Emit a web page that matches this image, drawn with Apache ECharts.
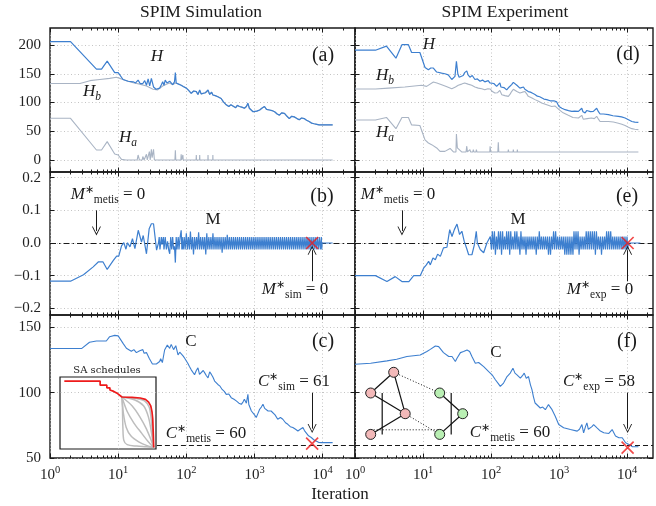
<!DOCTYPE html>
<html>
<head>
<meta charset="utf-8">
<script src="https://cdn.jsdelivr.net/npm/echarts@6/dist/echarts.min.js"></script>
<style>
  html, body { margin: 0; padding: 0; background: #fff; }
  #chart { width: 656px; height: 506px; }
</style>
</head>
<body>
<div id="chart"></div>
<script>
// ---- data: [iteration, value] ----
const hSim = [[1,206],[2,206],[4.8,158],[5.7,158],[6.9,172],[8.9,152],[10,152],[11.8,140],[14,137],[16.6,136],[18,134],[19.6,139],[21,133],[23,133],[24.5,138],[26,130],[27.5,141],[29,129],[30.7,142],[33,127],[36,123],[40.6,125],[43,131],[45,136],[47,130],[49,139],[52,134],[54,133],[57,137],[60,136],[63,131],[65,133],[67,136],[69,152],[71,134],[77,132],[84,130],[90,128],[100,125],[108,121],[118,116],[128,120],[140,119],[148,114],[157,122],[165,115],[175,113],[190,117],[208,122],[220,114],[235,118],[245,113],[265,112],[290,110],[305,113],[324,107],[350,101],[385,96],[420,93],[450,96],[480,94],[530,91],[560,95],[600,93],[650,92],[710,90],[760,93],[800,99],[840,90],[890,87],[950,84],[1000,81],[1080,85],[1190,87],[1280,90],[1400,93],[1500,88],[1660,87],[1800,86],[1970,84],[2150,80],[2320,78],[2500,82],[2750,81],[3000,76],[3240,72],[3500,76],[3830,75],[4200,72],[4530,70],[4900,73],[5360,72],[5800,69],[6340,67],[6900,64],[7500,63],[8200,62],[8870,61],[10000,61],[14000,61]];
const hbSim = [[1,133],[2.75,133],[3.85,138],[5.4,140],[7.5,142],[9.4,144],[10.6,142],[13.2,138],[16.6,134.5],[20.7,132],[26,128.7],[32.5,123],[38,122],[45,128.7],[52,132],[57,134],[63,131],[69,134],[77,132],[84,130],[90,128],[100,125],[108,121],[118,116],[128,120],[140,119],[148,114],[157,120],[165,115],[175,113],[190,117],[208,120],[220,114],[235,118],[245,113],[265,112],[290,110],[305,113],[324,107],[350,101],[385,96],[420,93],[450,96],[480,94],[530,91],[560,95],[600,93],[650,92],[710,90],[760,93],[800,97],[840,90],[890,87],[950,84],[1000,81],[1080,85],[1190,87],[1280,90],[1400,93],[1500,88],[1660,87],[1800,86],[1970,84],[2150,80],[2320,78],[2500,82],[2750,81],[3000,76],[3240,72],[3500,76],[3830,75],[4200,72],[4530,70],[4900,73],[5360,72],[5800,69],[6340,67],[6900,64],[7500,63],[8200,62],[8870,61],[10000,61],[14000,61]];
const haSim = [[1,72.5],[2,72.5],[4.8,17.4],[5.7,17.4],[6.9,32],[8.9,10.4],[10,8.7],[11.2,1],[13,0],[19,0],[19.6,8.7],[20.5,0],[22.5,0],[23,6],[24,0],[25.5,0],[26,10],[26.7,0],[28,0],[28.7,14.5],[29.5,0],[30.2,0],[30.7,18.5],[31.5,4],[32.5,4],[33,18.5],[34,0],[68,0],[69,17],[70,0],[83,0],[84,10],[85,0],[88,0],[89,8.7],[90,0],[139,0],[140,8.7],[141,0],[156,0],[157,8.7],[158,0],[207,0],[208,8.7],[209,0],[244,0],[245,8.7],[246,0],[14000,0]];

const hExp = [[1,191],[2,191],[2.9,198],[4,177],[4.9,200.6],[6.1,200.6],[6.8,187],[9,187],[10.7,161],[12,157],[13,160],[14.2,160],[15.9,153],[17,154],[18.8,151],[21,150],[23.5,148],[25,146],[26.5,140],[29.5,145.5],[31,171.6],[32.5,150],[34,144],[36,146],[39,147],[41,152],[44,155],[46,148],[49,144],[53,147],[58,140],[63,141],[69,137],[75,139],[81,136],[86,139],[91,138],[96,134],[102,131],[110,133],[121,128],[128,131],[135,134],[140,127],[144,125],[155,126],[170,122],[185,127],[201,131],[213,135],[226,134],[240,130],[253,128],[266,125],[282,122],[300,127],[315,123],[323,126],[335,122],[353,119],[380,118],[410,116],[443,114],[480,111],[520,110],[556,108],[600,106],[660,105],[700,106],[740,103],[780,102],[840,103],[925,101],[960,97],[1000,93],[1100,90],[1230,87.5],[1380,86],[1540,84.6],[1700,85],[1930,84.6],[2050,83],[2160,90],[2250,84],[2420,82],[2550,86],[2700,87.5],[2900,84],[3200,84.6],[3400,86],[3580,90],[3800,84],[4010,80],[4500,80],[5320,79],[6200,77],[7470,76],[8300,75],[9370,73],[10500,70],[11770,67],[13000,66],[14700,65.5]];
const hbExp = [[1,123.5],[2,123.5],[3.1,125],[5.4,127],[9.5,130],[11.3,128],[14.2,135.6],[16,134],[18.8,131],[22,128],[26.5,124],[30,127],[33,130],[37,132],[41,134],[46,132],[52,130],[58,127],[65,125],[73,124],[81,122],[90,124],[97,123.5],[105,119],[114,116.5],[125,117],[135,121],[144,113.6],[160,112],[180,110.7],[192,115],[201,119],[213,123],[226,122],[240,119],[266,116.5],[290,118],[316,119],[335,115],[353,110.7],[400,108],[443,105],[500,102],[556,99],[660,96],[780,93],[870,94],[925,92],[1000,87.5],[1150,82],[1370,77.7],[1600,74],[1930,73],[2050,72],[2160,77.7],[2270,71],[2420,68],[2600,72],[3000,73],[3300,72],[3580,76],[3800,71],[4010,67],[5320,67],[6300,66],[7470,64],[8400,62],[9370,60],[10500,57],[11770,54.5],[13000,53.5],[14700,52.8]];
const haExp = [[1,69.6],[2,69.6],[2.9,74],[4,54.5],[4.9,74],[6.1,74],[6.8,61],[9,60],[10.7,35],[12,29.6],[13.4,26.7],[15.9,21],[17.8,15],[21,15],[25,20],[28,14],[30.5,14],[31,45],[32,21],[33,21],[37,14],[43,14],[44,24],[45,14],[48,14],[49,18],[50,14],[54,14],[55,18],[56,14],[60,14],[61,18],[62,14],[96,14],[97,24],[99,14],[126,14],[128,31],[130,14],[178,14],[180,18],[182,14],[211,14],[213,18],[215,14],[242,14],[244,18],[246,14],[14700,14]];

const mSim = [[1,-0.117],[2,-0.117],[3.1,-0.097],[4.3,-0.073],[5.1,-0.058],[6,-0.058],[6.9,-0.081],[8.5,-0.053],[9.5,-0.04],[10.2,-0.04],[11.2,-0.009],[12.1,0.001],[13,-0.019],[13.7,0.001],[14.9,-0.012],[16.2,0.013],[17.6,-0.017],[19.7,0.039],[22,0.003],[23.3,0.023],[26,-0.033],[28.5,0.044],[30.7,0.059],[33,0.059],[36.6,-0.022],[39,0],
  [40,0.018],[41,-0.02],[43,0.018],[44,-0.005],[46,0.018],[47,-0.02],[49,0.018],[51,-0.02],[53,0.005],[55,-0.02],[57,-0.033],[59,0.018],[61,-0.02],[63,0.018],[65,-0.02],[67,-0.01],[69,-0.06],[71,0.018],[73,-0.02],[76,0.018],[78,-0.02],[81,0.018],[84,0.039],[86,-0.02],
  [87,0.018],[90,-0.02],[93,0.018],[96,-0.02],[100,0.03],[103.5,-0.02],[107.2,0.018],[110.9,-0.02],[114.8,0.035],[118.9,-0.02],[123,0.018],[127.4,-0.035],[131.8,0.018],[136.5,-0.02],[141.3,0.018],[146.2,-0.02],[151.4,0.033],[156.7,-0.02],[162.2,0.018],[167.9,-0.02],[173.8,0.018],[179.9,-0.02],[186.2,0.018],[192.8,-0.035],[199.5,0.03],[206.5,-0.02],[213.8,0.018],[221.3,-0.02],[229.1,0.018],[237.1,-0.02],[245.5,0.03],[254.1,-0.02],[263,0.018],[272.3,-0.02],[281.8,0.018],[291.7,-0.02],[302,0.018],[312.6,-0.02],[323.6,0.018],[335,-0.03],[346.7,0.018],[358.9,-0.02],[371.5,0.018],[384.6,-0.02],[398.1,0.025],[412.1,-0.02],[426.6,0.018],[441.6,-0.02],[457.1,0.018],[473.2,-0.02],[489.8,0.018],[507,-0.02],[524.8,0.018],[543.3,-0.02],[562.3,0.018],[582.1,-0.02],[602.6,0.018],[623.7,-0.02],[645.7,0.018],[668.3,-0.02],[691.8,0.018],[716.1,-0.02],[741.3,0.018],[767.4,-0.02],[794.3,0.018],[822.2,-0.02],[851.1,0.018],[881,-0.02],[912,0.018],[944.1,-0.02],[977.2,0.018],
  [1012,-0.02],[1047,0.018],[1084,-0.02],[1122,0.018],[1161,-0.02],[1202,0.018],[1245,-0.02],[1288,0.018],[1334,-0.02],[1380,0.018],[1429,-0.02],[1479,0.018],[1531,-0.02],[1585,0.018],[1641,-0.02],[1698,0.018],[1758,-0.02],[1820,0.018],[1884,-0.02],[1950,0.018],[2018,-0.02],[2089,0.018],[2163,-0.02],[2239,0.018],[2317,-0.02],[2399,0.018],[2483,-0.02],[2570,0.018],[2661,-0.02],[2754,0.018],[2851,-0.02],[2951,0.018],[3055,-0.02],[3162,0.018],[3273,-0.02],[3388,0.018],[3508,-0.02],[3631,0.018],[3758,-0.02],[3890,0.018],[4027,-0.02],[4169,0.018],[4315,-0.02],[4467,0.018],[4624,-0.02],[4786,0.018],[4955,-0.02],[5129,0.018],[5309,-0.02],[5495,0.018],[5689,-0.02],[5888,0.018],[6095,-0.02],[6310,0.018],[6531,-0.02],[6761,0.018],[6998,-0.02],[7244,0.018],[7499,-0.02],[7762,0.018],[8035,-0.02],[8318,0.018],[8610,-0.02],[8913,0.018],[9226,-0.02],[9550,0.018],[9700,-0.02],[9800,0],[14000,0]];
const mExp = [[1,-0.1],[2,-0.1],[2.95,-0.118],[3.9,-0.103],[4.9,-0.118],[6.2,-0.118],[7.3,-0.1],[9.1,-0.1],[10.2,-0.077],[11.2,-0.067],[12.1,-0.056],[12.8,-0.067],[14,-0.046],[15.2,-0.051],[16.4,-0.034],[18,-0.041],[20,-0.015],[22.5,-0.013],[24.7,0.041],[26.7,0.02],[28.9,0.041],[31.6,0.058],[34.5,0.026],[37.3,0.036],[40.4,0.005],[44.4,-0.02],[46.9,-0.036],[52.4,-0.036],[57,-0.005],[60.7,0.036],[63,0],[69.5,-0.02],[78,-0.03],[87,0],
  [97.7,0.02],[101.2,-0.02],[104.7,0.036],[108.4,-0.02],[112.2,0.036],[116.1,-0.036],[120.2,0.02],[124.5,-0.02],[128.8,0.036],[133.4,-0.02],[138,0.036],[142.9,-0.036],[147.9,0.036],[153.1,-0.02],[158.5,0.02],[164.1,-0.02],[169.8,0.036],[175.8,-0.02],[182,0.036],[188.4,-0.036],[195,0.036],[201.8,-0.02],[208.9,0.02],[216.3,-0.02],[223.9,0.036],[231.7,-0.02],[239.9,0.036],[248.3,-0.02],[257,0.02],[266.1,-0.036],[275.4,0.036],[285.1,-0.02],[295.1,0.02],[305.5,-0.02],[316.2,0.02],[327.3,-0.036],[338.8,0.02],[350.8,-0.02],[363.1,0.02],[375.8,-0.02],[389,0.02],[402.7,-0.02],[416.9,0.02],[431.5,-0.02],[446.7,0.02],[462.4,-0.036],[478.6,0.02],[495.5,-0.02],[512.9,0.036],[530.9,-0.02],[549.5,0.02],[568.9,-0.02],[588.8,0.02],[609.5,-0.02],[631,0.02],[653.1,-0.02],[676.1,0.02],[699.8,-0.036],[724.4,0.02],[749.9,-0.036],[776.2,0.02],[803.5,-0.02],[831.8,0.036],[860.9,-0.02],[891.3,0.036],[922.6,-0.02],[955,0.02],[988.6,-0.02],
  [1023,0.02],[1059,-0.02],[1096,0.02],[1135,-0.02],[1175,0.02],[1216,-0.036],[1259,0.02],[1303,-0.036],[1349,0.02],[1396,-0.036],[1445,0.02],[1496,-0.036],[1549,0.02],[1603,-0.036],[1660,0.036],[1718,-0.02],[1778,0.036],[1841,-0.02],[1905,0.036],[1972,-0.036],[2042,0.02],[2113,-0.02],[2188,0.02],[2265,-0.02],[2344,0.02],[2427,-0.02],[2512,0.036],[2600,-0.02],[2692,0.036],[2786,-0.02],[2884,0.036],[2985,-0.02],[3090,0.036],[3199,-0.02],[3311,0.036],[3428,-0.036],[3548,0.036],[3673,-0.02],[3802,0.02],[3936,-0.02],[4074,0.02],[4217,-0.036],[4365,0.02],[4519,-0.02],[4677,0.02],[4842,-0.02],[5012,0.036],[5188,-0.02],[5370,0.036],[5559,-0.02],[5754,0.036],[5957,-0.02],[6166,0.02],[6383,-0.02],[6607,0.02],[6839,-0.02],[7079,0.02],[7328,-0.02],[7586,0.02],[7852,-0.02],[8128,0.02],[8414,-0.02],[8710,0.02],[9016,-0.02],[9333,0.02],[9661,-0.02],[10000,0.02],[10230,-0.02],[10500,0],[15700,0]];

const cSim = [[1,133.8],[2.9,133.8],[3.8,138.6],[4.8,139.6],[6.7,139.6],[7.5,142.9],[8.9,143.9],[10,143.5],[10.6,142.9],[11.8,137.8],[13.2,134],[15.6,131.7],[17,133],[18.5,130.7],[20.7,132.2],[22,131],[23,133],[24,130.2],[26,130.7],[28.5,126.4],[31.8,122],[36.3,122],[40.6,123.9],[42,126],[44.5,123.1],[48,132.7],[52.6,136.5],[57,134],[60,137],[62.6,137.8],[65,133],[67.4,133.2],[70,136],[75.5,128.9],[80,131],[84,130.2],[90,128],[94.5,126.4],[100,125],[105,122.6],[111,120],[118,117.5],[125,116],[132,113.7],[140,117],[148,119],[156,114],[166,112.7],[177,117],[187,115],[197,113],[208,111.4],[220,116],[233,114],[245,112],[260,108.9],[275,110],[290,106.3],[312,105],[335,102.5],[360,101],[385,98.7],[420,99],[455,96.2],[500,95],[540,93.7],[590,92],[640,91.1],[680,93],[710,95],[760,92],[800,98.7],[825,91],[850,89.8],[900,86],[940,84.8],[1000,83],[1060,81],[1120,84],[1190,87.3],[1260,89],[1330,91.1],[1410,88],[1490,88.6],[1580,86],[1660,84.8],[1750,86],[1850,87.3],[2000,83],[2190,79.7],[2400,81],[2600,79.7],[2850,77],[3080,75.8],[3350,74],[3650,73.3],[4000,72],[4330,70.7],[4700,72],[5130,73.3],[5400,71],[5750,69.6],[6200,67],[6800,65.7],[7400,64],[8000,63],[8700,62],[9500,61.8],[14000,61.8]];
const cExp = [[1,121.8],[1.7,122.6],[2.95,124.4],[4.1,125.6],[5.8,127.7],[9.1,128.9],[11.4,131.5],[12.8,133.2],[15.2,135.8],[17,135.3],[20,130.7],[23.9,127.7],[26.7,127.7],[29.9,123.9],[31.6,126.4],[35.5,130.7],[39.5,131.5],[44.4,132.7],[48.5,131.5],[52.4,127.7],[58.8,122.6],[65.8,123.1],[78,120],[92.5,116.2],[103.7,113.7],[116,109.9],[128,107],[137,104.8],[153,107.4],[172,112.4],[192,115],[210,118.8],[225,115],[241,113.7],[270,111.2],[290,113],[308,115],[330,111],[356,112.4],[380,106],[400,102.3],[420,97],[445,92.1],[490,90],[530,88.3],[575,89],[630,87],[700,90.9],[790,87],[880,82],[990,75.6],[1170,73.1],[1470,71.8],[1850,70.6],[2000,72],[2170,75.6],[2300,69.3],[2450,74],[2570,76.9],[2700,72],[2880,71.8],[3050,74],[3230,75.6],[3620,73.1],[4060,70.6],[4550,69.3],[5400,68.8],[6040,71.8],[6770,66.8],[7590,65.5],[8500,65.5],[9530,61.7],[10700,60.4],[12000,58.6],[14700,58.6]];

// reference values and annotation anchors
const hTicks = [0, 50, 100, 150, 200];
const mTicks = [-0.2, -0.1, 0, 0.1, 0.2];
const cTicks = [50, 100, 150];
const decades = [0, 1, 2, 3, 4];
const metisCut = 60;
const insetEdge = 37;            // iteration where the SA inset ends in (c)
const simBestM = [7000, 0], expBestM = [10200, 0];
const simBestC = [7000, 61], expBestC = [10200, 58];
const arrowsB = [[4.8, 0.1, 0.037], [7000, -0.117, -0.022]];
const arrowsE = [[4.9, 0.1, 0.037], [10200, -0.117, -0.022]];
const arrowsC = [[7000, 100, 72.5]];
const arrowsF = [[10200, 100, 72.5]];

// SA schedules inset (normalised time, normalised temperature)
const saRed = [[0.045,0.943],[0.418,0.943],[0.418,0.887],[0.488,0.887],[0.488,0.849],[0.52,0.849],[0.52,0.82],[0.56,0.8],[0.6,0.77],[0.645,0.722],[0.75,0.716],[0.836,0.708],[0.89,0.69],[0.923,0.651],[0.945,0.6],[0.958,0.52],[0.966,0.42],[0.972,0.2],[0.976,0.02]];
const saGrey = [
  [[0.645,0.722],[0.65,0.6],[0.655,0.3],[0.665,0.12],[0.7,0.06],[0.8,0.04],[0.9,0.03],[0.976,0.02]],
  [[0.645,0.722],[0.66,0.5],[0.69,0.3],[0.74,0.18],[0.82,0.1],[0.9,0.05],[0.976,0.02]],
  [[0.645,0.722],[0.7,0.52],[0.77,0.36],[0.85,0.22],[0.92,0.1],[0.976,0.02]],
  [[0.645,0.722],[0.75,0.6],[0.83,0.45],[0.9,0.28],[0.95,0.12],[0.976,0.02]],
  [[0.645,0.722],[0.78,0.68],[0.87,0.6],[0.92,0.45],[0.95,0.25],[0.976,0.02]],
  [[0.645,0.722],[0.8,0.7],[0.88,0.67],[0.93,0.58],[0.955,0.35],[0.97,0.1],[0.976,0.02]]
];

// small network sketch in (f)
const netNodes = [['p1',1,0,0],['p2',0,0.9,0],['p3',1.5,1.8,0],['p4',0,2.7,0],['g1',3,0.9,1],['g2',4,1.8,1],['g3',3,2.7,1]];
const netSolid = [['p1','p2'],['p1','p3'],['p2','p3'],['p2','p4'],['p3','p4'],['g1','g2'],['g2','g3'],['g1','g3']];
const netDotted = [['p1','g1'],['p3','g3'],['p4','g3']];

// ---- layout / style ----
const FONT = 'Liberation Serif';
const BLUE = '#3d7fcf', GREY = '#a9b4c4', INK = '#1a1a1a';
const rows = [
  {top: 28, height: 144, min: -20.9, max: 229.6, ticks: hTicks, fmt: v => String(v)},
  {top: 172, height: 143, min: -0.2205, max: 0.2175, ticks: mTicks, fmt: v => v.toFixed(1).replace('-', '\u2212')},
  {top: 315, height: 143, min: 50, max: 159.5, ticks: cTicks, fmt: v => String(v)}
];
const cols = [{left: 50, width: 305, lmax: 4.474}, {left: 355, width: 298, lmax: 4.382}];

function minorTicks(lmax) {
  const out = [];
  decades.forEach(n => { for (let k = 2; k <= 9; k++) { const v = n + Math.log10(k); if (v < lmax) out.push(v); } });
  return out;
}

const grid = [], xAxis = [], yAxis = [];
const dotted = {color: '#b5b5b5', width: 0.8, type: [1, 2.5]};
rows.forEach((r, ri) => cols.forEach((c, ci) => {
  const gi = grid.length;
  grid.push({left: c.left, top: r.top, width: c.width, height: r.height, show: true,
    borderColor: INK, borderWidth: 1.4, backgroundColor: 'transparent'});
  const base = {type: 'value', gridIndex: gi, min: 0, max: c.lmax,
    axisLine: {show: false, onZero: false}, splitLine: {show: false}, axisLabel: {show: false}};
  const tick = (vals, len) => ({inside: true, length: len, customValues: vals, lineStyle: {color: INK, width: 1}});
  xAxis.push(Object.assign({}, base, {
    position: 'bottom', interval: 1, axisTick: tick(decades, 4.5),
    splitLine: {show: true, lineStyle: dotted},
    axisLabel: ri === 2 ? {
      show: true, customValues: decades, margin: 7, color: '#222', fontFamily: FONT, fontSize: 15,
      formatter: v => '10{s|' + Math.round(v) + '}',
      rich: {s: {fontFamily: FONT, fontSize: 10.5, color: '#222', padding: [0, 0, 9, 0]}}
    } : {show: false}
  }));
  xAxis.push(Object.assign({}, base, {position: 'top', axisTick: tick(decades, 4.5)}));
  xAxis.push(Object.assign({}, base, {position: 'bottom', axisTick: tick(minorTicks(c.lmax), 2.5)}));
  xAxis.push(Object.assign({}, base, {position: 'top', axisTick: tick(minorTicks(c.lmax), 2.5)}));
  const ybase = {type: 'value', gridIndex: gi, min: r.min, max: r.max,
    axisLine: {show: false, onZero: false}};
  yAxis.push(Object.assign({}, ybase, {
    position: 'left', axisTick: tick(r.ticks, 4.5),
    splitLine: {show: true, lineStyle: dotted},
    axisLabel: ci === 0 ? {show: true, customValues: r.ticks, formatter: r.fmt, margin: 9,
      color: '#222', fontFamily: FONT, fontSize: 15} : {show: false}
  }));
  yAxis.push(Object.assign({}, ybase, {position: 'right', axisTick: tick(r.ticks, 4.5),
    splitLine: {show: false}, axisLabel: {show: false}}));
}));
// inset grid (index 6)
grid.push({left: 60, top: 377, width: 96, height: 72, show: true, borderColor: INK, borderWidth: 1.2, backgroundColor: 'transparent'});
xAxis.push({type: 'value', gridIndex: 6, min: 0, max: 1, show: false});
yAxis.push({type: 'value', gridIndex: 6, min: 0, max: 1, show: false});

const lg = a => a.map(d => [Math.log10(d[0]), d[1]]);
function line(gi, data, color, width, z, extra) {
  return Object.assign({type: 'line', xAxisIndex: gi * 4, yAxisIndex: gi * 2, data: lg(data),
    showSymbol: false, symbol: 'none', lineStyle: {color, width}, itemStyle: {color}, z, silent: true}, extra || {});
}
const ARROW = 'path://M0,10L5,0L10,10L9,10L5,2.2L1,10Z';
function arrowLines(list) {
  return {silent: true, symbol: ['none', ARROW], symbolSize: 9, label: {show: false},
    lineStyle: {color: INK, width: 1, type: 'solid'}, emphasis: {disabled: true},
    data: list.map(a => [{coord: [Math.log10(a[0]), a[1]]}, {coord: [Math.log10(a[0]), a[2]]}])};
}
const XMARK = 'path://M0,0L10,10M10,0L0,10';
function best(gi, pt, ml) {
  return {type: 'scatter', xAxisIndex: gi * 4, yAxisIndex: gi * 2, data: [[Math.log10(pt[0]), pt[1]]],
    symbol: XMARK, symbolSize: 12, z: 6, silent: true,
    itemStyle: {color: 'rgba(0,0,0,0)', borderColor: '#ee1b1b', borderWidth: 1.7},
    markLine: Object.assign({silent: true, symbol: ['none', 'none'], label: {show: false}, z: 1,
      emphasis: {disabled: true}}, ml)};
}

const series = [
  line(0, hbSim, GREY, 1.1, 2), line(0, haSim, GREY, 1.1, 2), line(0, hSim, BLUE, 1.2, 3),
  line(1, hbExp, GREY, 1.1, 2), line(1, haExp, GREY, 1.1, 2), line(1, hExp, BLUE, 1.2, 3),
  line(2, mSim, BLUE, 1.2, 3, {markLine: arrowLines(arrowsB)}),
  line(3, mExp, BLUE, 1.2, 3, {markLine: arrowLines(arrowsE)}),
  line(4, cSim, BLUE, 1.1, 3, {markLine: arrowLines(arrowsC)}),
  line(5, cExp, BLUE, 1.1, 3, {markLine: arrowLines(arrowsF)}),
  best(2, simBestM, {lineStyle: {color: INK, width: 1, type: [6, 3, 1.5, 3]}, data: [{yAxis: 0}]}),
  best(3, expBestM, {lineStyle: {color: INK, width: 1, type: [6, 3, 1.5, 3]}, data: [{yAxis: 0}]}),
  best(4, simBestC, {lineStyle: {color: INK, width: 1, type: [5, 3]},
    data: [[{coord: [Math.log10(insetEdge), metisCut]}, {coord: [cols[0].lmax, metisCut]}]]}),
  best(5, expBestC, {lineStyle: {color: INK, width: 1, type: [5, 3]}, data: [{yAxis: metisCut}]})
];
saGrey.forEach(g => series.push({type: 'line', xAxisIndex: 24, yAxisIndex: 12, data: g, showSymbol: false,
  symbol: 'none', smooth: 0.3, lineStyle: {color: '#bdbdbd', width: 1.5}, z: 7, silent: true}));
series.push({type: 'line', xAxisIndex: 24, yAxisIndex: 12, data: saRed, showSymbol: false, symbol: 'none',
  lineStyle: {color: '#ee1b1b', width: 1.7}, z: 8, silent: true});
series.push({
  type: 'graph', layout: 'none', left: 370.7, top: 372.3, width: 92, height: 62.1,
  symbolSize: 10, z: 9, silent: true, roam: false, label: {show: false},
  data: netNodes.map(n => ({name: n[0], x: n[1], y: n[2],
    itemStyle: {color: n[3] ? '#b9efb3' : '#f3b9b9', borderColor: '#222', borderWidth: 1}})),
  links: netSolid.map(e => ({source: e[0], target: e[1], lineStyle: {type: 'solid', width: 1.2}}))
    .concat(netDotted.map(e => ({source: e[0], target: e[1], lineStyle: {type: [1, 2], width: 1}}))),
  lineStyle: {color: '#111', opacity: 1}
});

// ---- text ----
const RICH = {
  i: {fontFamily: FONT, fontStyle: 'italic', fontSize: 17, lineHeight: 20},
  r: {fontFamily: FONT, fontSize: 17, lineHeight: 20},
  sup: {fontFamily: FONT, fontSize: 11, lineHeight: 10, padding: [0, 0, 9, 0]},
  sub: {fontFamily: FONT, fontSize: 11.5, lineHeight: 11, padding: [9, 0, 0, 0]},
  subi: {fontFamily: FONT, fontStyle: 'italic', fontSize: 11.5, lineHeight: 11, padding: [9, 0, 0, 0]}
};
function txt(x, y, text, size, family) {
  return {type: 'text', x, y, silent: true, z: 100,
    style: {text, fill: INK, font: size + 'px "' + (family || FONT) + '"', align: 'center', verticalAlign: 'middle',
      textAlign: 'center', textVerticalAlign: 'middle', rich: RICH}};
}
const star = (sym, sub, rhs) => '{i|' + sym + '}{sup|\u2217}{sub|' + sub + '}{r| = ' + rhs + '}';
const texts = [
  txt(201, 12, 'SPIM Simulation', 17.5), txt(505, 12, 'SPIM Experiment', 17.5),
  txt(323, 56, '(a)', 20), txt(628, 55, '(d)', 20),
  txt(322, 197, '(b)', 20), txt(627, 197, '(e)', 20),
  txt(323, 342, '(c)', 20), txt(627, 342, '(f)', 20),
  txt(157, 57, '{i|H}', 17), txt(92, 92, '{i|H}{subi|b}', 17), txt(128, 138, '{i|H}{subi|a}', 17),
  txt(429, 45, '{i|H}', 17), txt(385, 76, '{i|H}{subi|b}', 17), txt(385, 133, '{i|H}{subi|a}', 17),
  txt(108, 195, star('M', 'metis', '0'), 17), txt(213, 220, '{r|M}', 17), txt(295, 290, star('M', 'sim', '0'), 17),
  txt(398, 195, star('M', 'metis', '0'), 17), txt(518, 220, '{r|M}', 17), txt(600, 290, star('M', 'exp', '0'), 17),
  txt(191, 342, '{r|C}', 17), txt(294, 382, star('C', 'sim', '61'), 17), txt(206, 434, star('C', 'metis', '60'), 17),
  txt(496, 353, '{r|C}', 17), txt(599, 382, star('C', 'exp', '58'), 17), txt(510, 433, star('C', 'metis', '60'), 17),
  txt(107, 370, 'SA schedules', 10, 'DejaVu Serif'),
  txt(340, 495, 'Iteration', 17)
];

const chart = echarts.init(document.getElementById('chart'));
chart.setOption({
  animation: false,
  backgroundColor: '#fff',
  grid, xAxis, yAxis, series,
  graphic: {elements: texts}
});
</script>
</body>
</html>
